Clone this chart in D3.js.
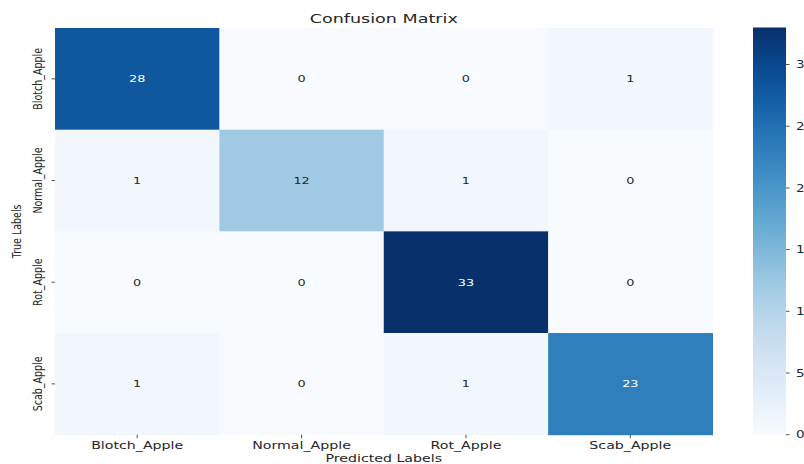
<!DOCTYPE html>
<html><head><meta charset="utf-8">
<script src="https://cdn.jsdelivr.net/npm/d3@7"></script>
<style>
html,body{margin:0;padding:0;background:#fff;overflow:hidden;}
svg{display:block;}
text{font-family:"DejaVu Sans",sans-serif;fill:#262626;}
</style></head>
<body>
<script>
const predictedLabels = ["Blotch_Apple","Normal_Apple","Rot_Apple","Scab_Apple"];
const trueLabels = ["Blotch_Apple","Normal_Apple","Rot_Apple","Scab_Apple"];
const blotchRow = [28, 0, 0, 1];
const normalRow = [1, 12, 1, 0];
const rotRow = [0, 0, 33, 0];
const scabRow = [1, 0, 1, 23];
const matrix = [blotchRow, normalRow, rotRow, scabRow];
const colorTicks = [0, 5, 10, 15, 20, 25, 30];
const titleText = "Confusion Matrix";
const xTitle = "Predicted Labels";
const yTitle = "True Labels";

(function(){
const W = 804, H = 464;
const SX = 1.35; // horizontal stretch of the original picture
const svg = d3.select("body").append("svg").attr("width", W).attr("height", H);

const pL = 55, pR = 712.5, pT = 28, pB = 434.7;
const x = d3.scaleBand().domain(predictedLabels).range([pL, pR]).padding(0);
const y = d3.scaleBand().domain(trueLabels).range([pT, pB]).padding(0);
const vmax = d3.max(matrix.flat());
const color = d3.scaleSequential(d3.interpolateBlues).domain([0, vmax]);

const cells = [];
matrix.forEach((row, i) => row.forEach((v, j) => cells.push({r: trueLabels[i], c: predictedLabels[j], v})));

svg.append("g").selectAll("rect").data(cells).join("rect")
  .attr("x", d => x(d.c)).attr("y", d => y(d.r))
  .attr("width", x.bandwidth() + 0.5).attr("height", y.bandwidth() + 0.5)
  .attr("fill", d => color(d.v));

svg.append("g").selectAll("text").data(cells).join("text")
  .attr("transform", d => `translate(${x(d.c) + x.bandwidth()/2},${y(d.r) + y.bandwidth()/2}) scale(${SX},1)`)
  .attr("text-anchor", "middle").attr("dy", "0.36em")
  .style("font-size", "9.5px")
  .style("fill", d => (d.v / vmax > 0.55 ? "#ffffff" : "#262626"))
  .text(d => d.v);

// x axis ticks and labels
const xa = svg.append("g");
xa.selectAll("line").data(predictedLabels).join("line")
  .attr("x1", d => x(d) + x.bandwidth()/2).attr("x2", d => x(d) + x.bandwidth()/2)
  .attr("y1", pB).attr("y2", pB + 3.5).attr("stroke", "#262626").attr("stroke-width", 0.8);
xa.selectAll("text").data(predictedLabels).join("text")
  .attr("transform", d => `translate(${x(d) + x.bandwidth()/2},448.5) scale(${SX},1)`)
  .attr("text-anchor", "middle").style("font-size", "10.5px").text(d => d);

// y axis ticks and labels
const ya = svg.append("g");
ya.selectAll("line").data(trueLabels).join("line")
  .attr("x1", pL - 3.5).attr("x2", pL)
  .attr("y1", d => y(d) + y.bandwidth()/2).attr("y2", d => y(d) + y.bandwidth()/2)
  .attr("stroke", "#262626").attr("stroke-width", 0.8);
ya.selectAll("text").data(trueLabels).join("text")
  .attr("transform", d => `translate(42,${y(d) + y.bandwidth()/2}) rotate(-90) scale(1,1.25)`)
  .attr("text-anchor", "middle").style("font-size", "9.5px").text(d => d);

// titles
svg.append("text").attr("transform", `translate(${(pL+pR)/2},23) scale(${SX},1)`)
  .attr("text-anchor", "middle").style("font-size", "13px").text(titleText);
svg.append("text").attr("transform", `translate(${(pL+pR)/2},462) scale(${SX},1)`)
  .attr("text-anchor", "middle").style("font-size", "10.5px").text(xTitle);
svg.append("text").attr("transform", `translate(20.5,${(pT+pB)/2}) rotate(-90) scale(1,1.25)`)
  .attr("text-anchor", "middle").style("font-size", "9.5px").text(yTitle);

// colorbar
const cbX = 753, cbW = 33;
const cy = d3.scaleLinear().domain([0, vmax]).range([pB, 27.5]);
const defs = svg.append("defs");
const grad = defs.append("linearGradient").attr("id", "cbgrad")
  .attr("x1", 0).attr("y1", 1).attr("x2", 0).attr("y2", 0);
d3.range(0, 1.0001, 0.02).forEach(t => {
  grad.append("stop").attr("offset", t).attr("stop-color", color(t * vmax));
});
svg.append("rect").attr("x", cbX).attr("y", cy(vmax)).attr("width", cbW)
  .attr("height", cy(0) - cy(vmax)).attr("fill", "url(#cbgrad)");
const cb = svg.append("g");
cb.selectAll("line").data(colorTicks).join("line")
  .attr("x1", cbX + cbW).attr("x2", cbX + cbW + 3.5)
  .attr("y1", d => cy(d)).attr("y2", d => cy(d))
  .attr("stroke", "#262626").attr("stroke-width", 0.8);
cb.selectAll("text").data(colorTicks).join("text")
  .attr("transform", d => `translate(796,${cy(d)}) scale(${SX},1)`)
  .attr("dy", "0.36em").style("font-size", "10px").text(d => d);
})();
</script>
</body></html>
